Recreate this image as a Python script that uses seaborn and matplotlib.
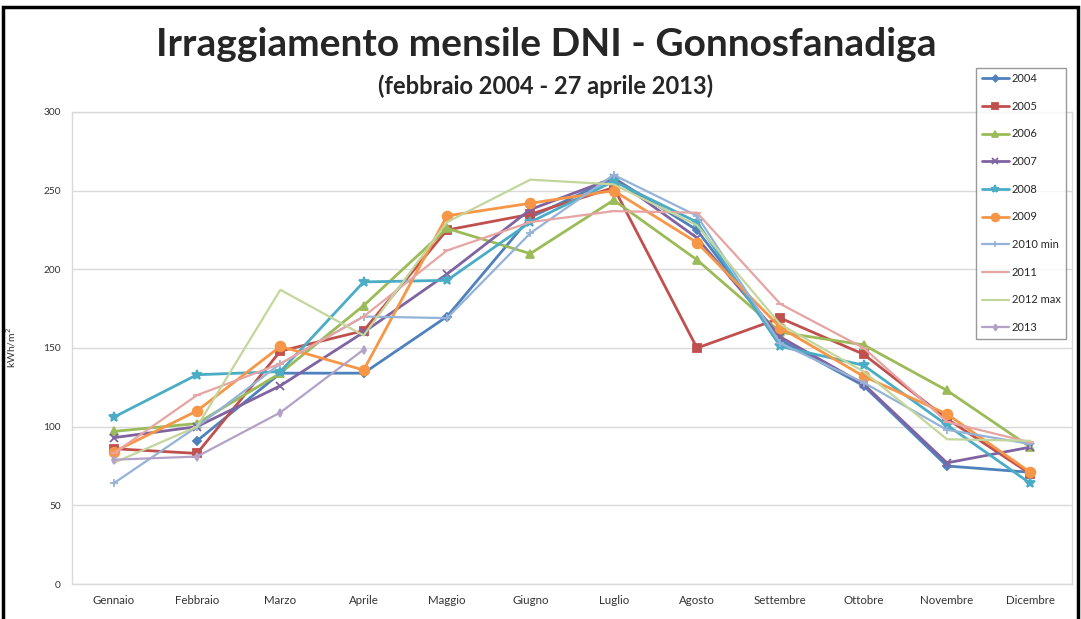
import numpy as np
import pandas as pd
import matplotlib.pyplot as plt
import seaborn as sns
from matplotlib.patches import Rectangle

# monthly DNI values (kWh/m2)
mesi = ['Gennaio', 'Febbraio', 'Marzo', 'Aprile', 'Maggio', 'Giugno',
        'Luglio', 'Agosto', 'Settembre', 'Ottobre', 'Novembre', 'Dicembre']

v2004 = [np.nan, 91, 134, 134, 170, 233, 258, 225, 155, 126, 75, 71]
v2005 = [86, 83, 148, 161, 225, 235, 252, 150, 169, 146, 105, 70]
v2006 = [97, 102, 134, 177, 226, 210, 244, 206, 160, 152, 123, 87]
v2007 = [93, 100, 126, 160, 197, 238, 258, 220, 157, 127, 77, 87]
v2008 = [106, 133, 135, 192, 193, 230, 256, 230, 151, 139, 101, 64]
v2009 = [84, 110, 151, 136, 234, 242, 250, 217, 163, 132, 108, 71]
v2010 = [64, 100, 140, 170, 169, 223, 260, 234, 153, 128, 98, 89]
v2011 = [83, 120, 140, 170, 212, 230, 237, 236, 178, 150, 103, 90]
v2012 = [77, 100, 187, 158, 230, 257, 254, 228, 165, 135, 92, 91]
v2013 = [79, 81, 109, 149, np.nan, np.nan, np.nan, np.nan, np.nan, np.nan, np.nan, np.nan]

anni = ['2004', '2005', '2006', '2007', '2008', '2009', '2010 min', '2011', '2012 max', '2013']
valori = [v2004, v2005, v2006, v2007, v2008, v2009, v2010, v2011, v2012, v2013]

# Excel 2007-ish series styling
colori = ['#4F81BD', '#C0504D', '#9BBB59', '#8064A2', '#4BACC6',
          '#F79646', '#95B3D7', '#E6A4A3', '#C3D69B', '#B3A2C7']
marcatori = ['D', 's', '^', 'x', '*', 'o', '+', '_', None, 'd']
taglie = [4, 6, 6, 6, 7, 7, 6, 6, 0, 4]
spessori = [2, 2, 2, 2, 2, 2, 1.6, 1.6, 1.6, 1.6]

sns.set_style('white')
plt.rcParams['font.family'] = ['Lato', 'DejaVu Sans']

fig = plt.figure(figsize=(10.81, 6.19), dpi=100)
ax = fig.add_axes([72 / 1081, 1 - 584 / 619, 1000 / 1081, 472 / 619])

x = np.arange(len(mesi))
for nome, vals, col, mk, ms, lw in zip(anni, valori, colori, marcatori, taglie, spessori):
    df = pd.DataFrame({'mese': x, 'valore': vals}).dropna()
    sns.lineplot(data=df, x='mese', y='valore', ax=ax, color=col, lw=lw,
                 marker=mk, markersize=ms, markeredgecolor=col,
                 markeredgewidth=1.3, label=nome)

ax.set_xlim(-0.5, 11.5)
ax.set_ylim(0, 300)
ax.set_yticks(range(0, 301, 50))
ax.set_xticks(x)
ax.set_xticklabels(mesi)
ax.tick_params(axis='both', colors='#333333', length=0, pad=8)
ax.tick_params(axis='x', labelsize=8.3)
ax.tick_params(axis='y', labelsize=7.3)
ax.set_xlabel('')
ax.set_ylabel('kWh/m$^2$', fontsize=7.5, color='#333333', labelpad=18)
ax.grid(axis='y', color='#d9d9d9', lw=1)
for s in ax.spines.values():
    s.set_color('#d9d9d9')
    s.set_linewidth(1)

ax.get_legend().remove()
h, l = ax.get_legend_handles_labels()
leg = fig.legend(h, l, loc='upper right', bbox_to_anchor=(1072 / 1081, 1 - 62 / 619),
                 fontsize=8, frameon=True, fancybox=False, edgecolor='#808080',
                 handlelength=2.4, labelspacing=1.5, borderpad=0.5, handletextpad=0.3,
                 markerscale=0.8)
leg.get_frame().set_linewidth(1)

fig.text(0.505, 1 - 45 / 619, 'Irraggiamento mensile DNI - Gonnosfanadiga',
         ha='center', va='center', fontsize=28, fontweight='bold')
fig.text(0.505, 1 - 86 / 619, '(febbraio 2004 - 27 aprile 2013)',
         ha='center', va='center', fontsize=17, fontweight='bold')

# outer frame of the chart
fig.patches.append(Rectangle((3 / 1081, -0.02), 1 - 6 / 1081, 1.02 - 7 / 619,
                             transform=fig.transFigure, fill=False,
                             edgecolor='black', lw=2.5))

fig.savefig('out.png', dpi=100)
